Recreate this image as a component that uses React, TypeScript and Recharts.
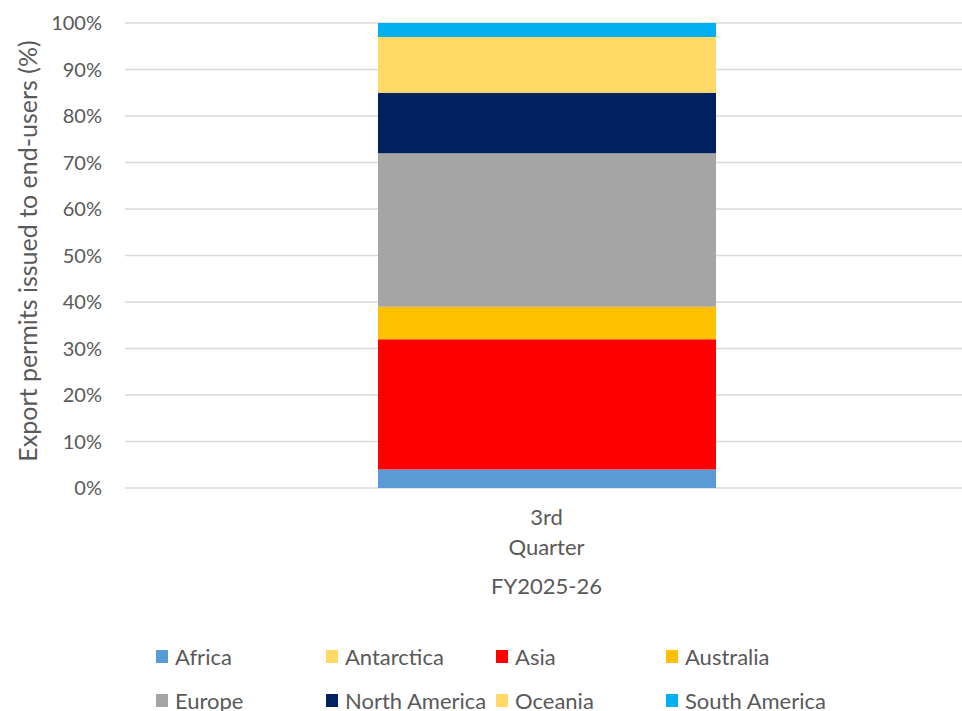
import { BarChart, Bar, XAxis, YAxis, CartesianGrid } from 'recharts'

const quarters = ['3rd Quarter']
const fiscalYear = 'FY2025-26'

// share of permits per region, one value per quarter (%)
const africa = [4]
const antarctica = [0]
const asia = [28]
const australia = [7]
const europe = [33]
const northAmerica = [13]
const oceania = [12]
const southAmerica = [3]

const regions = [
  { name: 'Africa', values: africa, color: '#5B9BD5' },
  { name: 'Antarctica', values: antarctica, color: '#FFD966' },
  { name: 'Asia', values: asia, color: '#FF0000' },
  { name: 'Australia', values: australia, color: '#FFC000' },
  { name: 'Europe', values: europe, color: '#A5A5A5' },
  { name: 'North America', values: northAmerica, color: '#002060' },
  { name: 'Oceania', values: oceania, color: '#FFD966' },
  { name: 'South America', values: southAmerica, color: '#00B0F0' },
]

const yTicks = [0, 10, 20, 30, 40, 50, 60, 70, 80, 90, 100]

const FONT = 'Lato, "Open Sans", sans-serif'
const TEXT = '#595959'

const chartData = quarters.map((q, i) => {
  const row: Record<string, string | number> = { quarter: q }
  regions.forEach(r => { row[r.name] = r.values[i] })
  return row
})

function QuarterTick({ x, y, payload }: any) {
  const lines = String(payload.value).split(' ')
  return (
    <g>
      {lines.map((line, i) => (
        <text key={line} x={x} y={y + 20 + i * 30} textAnchor="middle" dominantBaseline="central"
          fontSize={22} fill={TEXT} fontFamily={FONT}>
          {line}
        </text>
      ))}
    </g>
  )
}

export default function App() {
  return (
    <div style={{ position: 'absolute', left: 0, top: 0, width: 962, height: 711, overflow: 'hidden', background: '#fff', fontFamily: FONT }}>
      <BarChart width={968} height={711} data={chartData} margin={{ top: 23, right: 0, left: 0, bottom: 93 }}>
        <CartesianGrid stroke="#D9D9D9" strokeWidth={1.5} vertical={false} />
        <XAxis dataKey="quarter" height={130} axisLine={false} tickLine={false} tick={<QuarterTick />}
          label={{
            content: ({ viewBox }: any) => (
              <text x={viewBox.x + viewBox.width / 2} y={585} textAnchor="middle" dominantBaseline="central"
                fontSize={22} fill={TEXT} fontFamily={FONT}>
                {fiscalYear}
              </text>
            ),
          }} />
        <YAxis width={125} domain={[0, 100]} ticks={yTicks} tickFormatter={v => `${v}%`}
          axisLine={false} tickLine={false} tickMargin={17}
          tick={{ fontSize: 20, fill: TEXT, fontFamily: FONT }}
          label={{
            content: () => (
              <text x={27} y={251} transform="rotate(-90, 27, 251)" textAnchor="middle" dominantBaseline="central"
                fontSize={25} fill={TEXT} fontFamily={FONT}>
                Export permits issued to end-users (%)
              </text>
            ),
          }} />
        {regions.map(r => (
          <Bar key={r.name} dataKey={r.name} stackId="a" fill={r.color} barSize={338} isAnimationActive={false} />
        ))}
      </BarChart>
      <div style={{ position: 'absolute', left: 156, top: 645, display: 'grid', gridTemplateColumns: 'repeat(4, 170px)', rowGap: 22 }}>
        {regions.map(r => (
          <div key={r.name} style={{ display: 'flex', alignItems: 'center', height: 22, fontSize: 22, color: TEXT, whiteSpace: 'nowrap' }}>
            <span style={{ width: 12, height: 13, background: r.color, marginRight: 7, display: 'inline-block' }} />
            {r.name}
          </div>
        ))}
      </div>
    </div>
  )
}
